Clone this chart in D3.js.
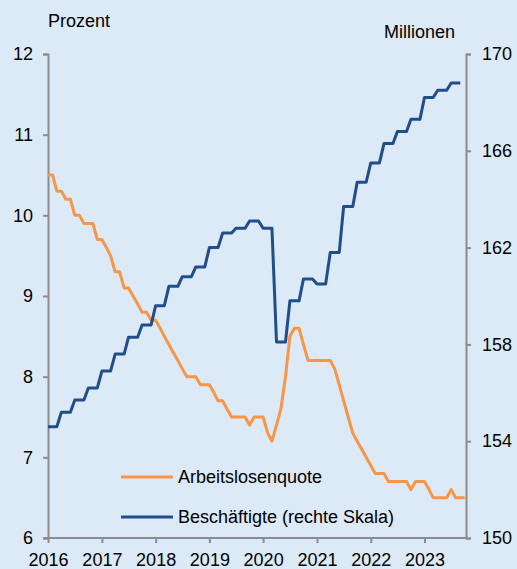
<!DOCTYPE html>
<html>
<head>
<meta charset="utf-8">
<script src="https://cdn.jsdelivr.net/npm/d3@7"></script>
<style>
  html, body { margin: 0; padding: 0; background: #dce9f7; }
  svg { display: block; font-family: "Liberation Sans", Arial, sans-serif; }
</style>
</head>
<body>
<div id="chart"></div>
<script>
// Arbeitslosenquote, monatlich ab Jan. 2016 (Prozent)
const unemployment = [
  10.5, 10.5, 10.3, 10.3, 10.2, 10.2, 10.0, 10.0, 9.9, 9.9, 9.9, 9.7,
  9.7, 9.6, 9.5, 9.3, 9.3, 9.1, 9.1, 9.0, 8.9, 8.8, 8.8, 8.7,
  8.7, 8.6, 8.5, 8.4, 8.3, 8.2, 8.1, 8.0, 8.0, 8.0, 7.9, 7.9,
  7.9, 7.8, 7.7, 7.7, 7.6, 7.5, 7.5, 7.5, 7.5, 7.4, 7.5, 7.5,
  7.5, 7.3, 7.2, 7.4, 7.6, 8.0, 8.5, 8.6, 8.6, 8.4, 8.2, 8.2,
  8.2, 8.2, 8.2, 8.2, 8.1, 7.9, 7.7, 7.5, 7.3, 7.2, 7.1, 7.0,
  6.9, 6.8, 6.8, 6.8, 6.7, 6.7, 6.7, 6.7, 6.7, 6.6, 6.7, 6.7,
  6.7, 6.6, 6.5, 6.5, 6.5, 6.5, 6.6, 6.5, 6.5, 6.5
]

// Beschäftigte, quartalsweise ab Q1 2016 (Millionen)
const employment = [
  154.6, 155.2, 155.7, 156.2,
  156.9, 157.6, 158.3, 158.8,
  159.6, 160.4, 160.8, 161.2,
  162.0, 162.6, 162.8, 163.1,
  162.8, 158.1, 159.8, 160.7,
  160.5, 161.8, 163.7, 164.7,
  165.5, 166.3, 166.8, 167.3,
  168.2, 168.5, 168.8
]

const years = [2016, 2017, 2018, 2019, 2020, 2021, 2022, 2023]
const leftTicks = [6, 7, 8, 9, 10, 11, 12]
const rightTicks = [150, 154, 158, 162, 166, 170]
const seriesNames = ['Arbeitslosenquote', 'Beschäftigte (rechte Skala)']
const seriesColors = ['#f79646', '#1f4e8a']

const width = 517
const height = 569
const margin = { top: 54, right: 51, bottom: 31, left: 48 }
const axisColor = '#8c8c8c'

const svg = d3.select('#chart')
  .append('svg')
  .attr('width', width)
  .attr('height', height)

svg.append('rect')
  .attr('width', width)
  .attr('height', height)
  .attr('fill', '#dce9f7')

const monthDate = m => new Date(2016, m, 1)

const x = d3.scaleTime()
  .domain([monthDate(0), new Date(2023, 9, 10)])
  .range([margin.left, width - margin.right])

const yLeft = d3.scaleLinear()
  .domain([6, 12])
  .range([height - margin.bottom, margin.top])

const yRight = d3.scaleLinear()
  .domain([150, 170])
  .range([height - margin.bottom, margin.top])

// quarterly values shown as monthly points (each quarter repeated 3 months)
const employmentMonthly = employment.flatMap((v, q) =>
  [0, 1, 2].map(i => ({ date: monthDate(q * 3 + i), value: v })))
const unemploymentMonthly = unemployment.map((v, m) => ({ date: monthDate(m), value: v }))

// axes
const styleAxis = g => {
  g.select('.domain').attr('stroke', axisColor).attr('stroke-width', 2)
  g.selectAll('.tick line').attr('stroke', axisColor).attr('stroke-width', 2)
  g.selectAll('.tick text')
    .attr('fill', '#000')
    .style('font-size', '18px')
}

svg.append('g')
  .attr('transform', `translate(${margin.left},0)`)
  .call(d3.axisLeft(yLeft).tickValues(leftTicks).tickFormat(d3.format('d'))
    .tickSize(5).tickSizeOuter(5).tickPadding(10))
  .call(styleAxis)

svg.append('g')
  .attr('transform', `translate(${width - margin.right},0)`)
  .call(d3.axisRight(yRight).tickValues(rightTicks).tickSize(5).tickSizeOuter(5).tickPadding(11))
  .call(styleAxis)

svg.append('g')
  .attr('transform', `translate(0,${height - margin.bottom})`)
  .call(d3.axisBottom(x)
    .tickValues(years.map(y => new Date(y, 0, 1)))
    .tickFormat(d3.timeFormat('%Y'))
    .tickSize(5).tickSizeOuter(0).tickPadding(10))
  .call(styleAxis)
  .call(g => g.select('.domain').attr('d', `M${margin.left - 4},0H${width - margin.right}`))

// lines
const lineLeft = d3.line().x(d => x(d.date)).y(d => yLeft(d.value))
const lineRight = d3.line().x(d => x(d.date)).y(d => yRight(d.value))

svg.append('path')
  .datum(unemploymentMonthly)
  .attr('d', lineLeft)
  .attr('fill', 'none')
  .attr('stroke', seriesColors[0])
  .attr('stroke-width', 3)
  .attr('stroke-linejoin', 'round')

svg.append('path')
  .datum(employmentMonthly)
  .attr('d', lineRight)
  .attr('fill', 'none')
  .attr('stroke', seriesColors[1])
  .attr('stroke-width', 3)
  .attr('stroke-linejoin', 'round')

// unit labels
svg.append('text')
  .attr('x', 48).attr('y', 27)
  .style('font-size', '18px')
  .text('Prozent')

svg.append('text')
  .attr('x', 455).attr('y', 38)
  .attr('text-anchor', 'end')
  .style('font-size', '18px')
  .text('Millionen')

// legend
const legend = svg.append('g').attr('transform', 'translate(121,477)')
seriesNames.forEach((name, i) => {
  const row = legend.append('g').attr('transform', `translate(0,${i * 40})`)
  row.append('line')
    .attr('x1', 0).attr('x2', 52)
    .attr('stroke', seriesColors[i])
    .attr('stroke-width', 3)
  row.append('text')
    .attr('x', 57).attr('y', 6)
    .style('font-size', '18px')
    .text(name)
})
</script>
</body>
</html>
